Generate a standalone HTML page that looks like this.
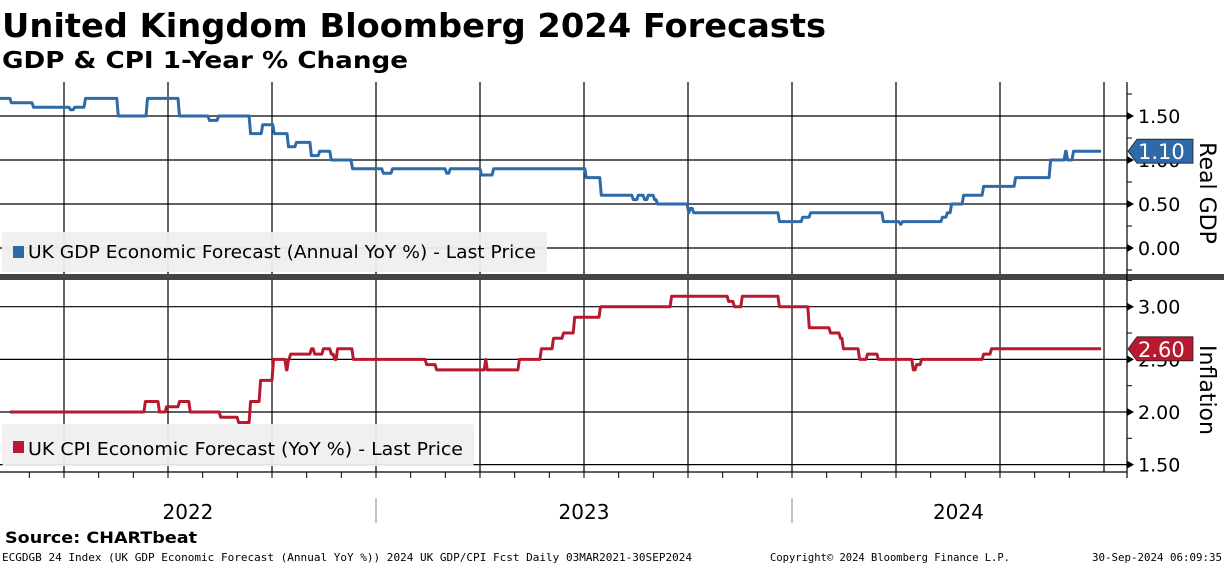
<!DOCTYPE html>
<html><head><meta charset="utf-8"><style>
body{margin:0;background:#fff;width:1224px;height:566px;overflow:hidden;font-family:"DejaVu Sans","Liberation Sans",sans-serif}
svg{display:block}
</style></head><body>
<svg id="c" width="1224" height="566" xmlns="http://www.w3.org/2000/svg">
<text x="2" y="37" font-family="DejaVu Sans, sans-serif" font-weight="bold" font-size="33" textLength="824" lengthAdjust="spacingAndGlyphs">United Kingdom Bloomberg 2024 Forecasts</text>
<text x="2" y="68" font-family="DejaVu Sans, sans-serif" font-weight="bold" font-size="23" textLength="406" lengthAdjust="spacingAndGlyphs">GDP &amp; CPI 1-Year % Change</text>
<g id="grid"></g>
<g id="marks"></g>
<rect x="0" y="274" width="1224" height="6" fill="#444"/>
<line x1="1127" y1="82" x2="1127" y2="478" stroke="#000" stroke-width="1.2"/>
<line x1="0" y1="472" x2="1127" y2="472" stroke="#000" stroke-width="1.2"/>
<g>
<rect x="2" y="232" width="545" height="40" rx="3" fill="#efefef" opacity="0.95"/>
<rect x="13" y="246" width="11" height="12" fill="#2e6aa8"/>
<text x="28" y="258" font-family="DejaVu Sans, sans-serif" font-size="18" textLength="508" lengthAdjust="spacingAndGlyphs">UK GDP Economic Forecast (Annual YoY %) - Last Price</text>
</g>
<g>
<rect x="2" y="424" width="472" height="42" rx="3" fill="#efefef" opacity="0.95"/>
<rect x="13" y="441" width="11" height="12" fill="#b8192f"/>
<text x="28" y="455" font-family="DejaVu Sans, sans-serif" font-size="18" textLength="435" lengthAdjust="spacingAndGlyphs">UK CPI Economic Forecast (YoY %) - Last Price</text>
</g>
<text transform="translate(1200,193) rotate(90)" text-anchor="middle" font-family="DejaVu Sans, sans-serif" font-size="22">Real GDP</text>
<text transform="translate(1200,390) rotate(90)" text-anchor="middle" font-family="DejaVu Sans, sans-serif" font-size="22">Inflation</text>
<line x1="376" y1="498" x2="376" y2="523" stroke="#888"/>
<line x1="792" y1="498" x2="792" y2="523" stroke="#888"/>
<text x="5" y="543" font-family="DejaVu Sans, sans-serif" font-weight="bold" font-size="16" textLength="192" lengthAdjust="spacingAndGlyphs">Source: CHARTbeat</text>
<g font-family="DejaVu Sans Mono, monospace" font-size="11">
<text x="2" y="561" textLength="690" lengthAdjust="spacingAndGlyphs">ECGDGB 24 Index (UK GDP Economic Forecast (Annual YoY %)) 2024 UK GDP/CPI Fcst  Daily 03MAR2021-30SEP2024</text>
<text x="770" y="561" textLength="240" lengthAdjust="spacingAndGlyphs">Copyright© 2024 Bloomberg Finance L.P.</text>
<text x="1092" y="561" textLength="130" lengthAdjust="spacingAndGlyphs">30-Sep-2024 06:09:35</text>
</g>
</svg>
<script>
// step series: value takes effect at each change date (fractional years)
const gdpT=[2022.096,2022.120,2022.173,2022.262,2022.272,2022.298,2022.377,2022.447,2022.524,2022.596,2022.618,2022.695,2022.724,2022.752,2022.786,2022.805,2022.841,2022.861,2022.889,2022.940,2023.014,2023.036,2023.166,2023.175,2023.250,2023.279,2023.502,2023.538,2023.615,2023.627,2023.642,2023.651,2023.666,2023.673,2023.748,2023.752,2023.760,2023.966,2024.022,2024.041,2024.216,2024.257,2024.262,2024.358,2024.370,2024.380,2024.409,2024.457,2024.534,2024.618,2024.654,2024.659,2024.673];
const gdpV=[1.70,1.65,1.60,1.57,1.60,1.70,1.50,1.70,1.50,1.45,1.50,1.30,1.40,1.30,1.15,1.20,1.05,1.10,1.00,0.90,0.85,0.90,0.85,0.90,0.83,0.90,0.80,0.60,0.55,0.60,0.55,0.60,0.55,0.50,0.40,0.45,0.40,0.30,0.35,0.40,0.30,0.27,0.30,0.35,0.40,0.50,0.60,0.70,0.80,1.00,1.10,1.00,1.10];
const cpiT=[2022.120,2022.442,2022.476,2022.493,2022.524,2022.550,2022.623,2022.666,2022.695,2022.719,2022.750,2022.781,2022.786,2022.791,2022.841,2022.849,2022.870,2022.889,2022.897,2022.904,2022.942,2023.118,2023.142,2023.260,2023.264,2023.341,2023.394,2023.423,2023.447,2023.474,2023.536,2023.707,2023.844,2023.858,2023.877,2023.966,2024.038,2024.089,2024.113,2024.120,2024.159,2024.178,2024.204,2024.288,2024.296,2024.308,2024.457,2024.476];
const cpiV=[2.00,2.10,2.00,2.05,2.10,2.00,1.95,1.90,2.10,2.30,2.50,2.40,2.50,2.55,2.60,2.55,2.60,2.55,2.50,2.60,2.50,2.45,2.40,2.50,2.40,2.50,2.60,2.70,2.75,2.90,3.00,3.10,3.05,3.00,3.10,3.00,2.80,2.75,2.70,2.60,2.50,2.55,2.50,2.40,2.45,2.50,2.55,2.60];
const endT=2024.743;
const gdpTicks=[0,0.5,1.0,1.5];
const cpiTicks=[1.5,2.0,2.5,3.0];
const yearLabels=["2022","2023","2024"];
const yearPos=[2022.548,2023.5,2024.4];
const gdpLast="1.10", cpiLast="2.60";

const X=t=>376+416*(t-2023);
const YG=v=>248-88*v;
const YC=v=>412-105.3*(v-2);
const NS="http://www.w3.org/2000/svg";
const grid=document.getElementById('grid'), marks=document.getElementById('marks');
function mk(tag,attrs,parent){const e=document.createElementNS(NS,tag);for(const k in attrs)e.setAttribute(k,attrs[k]);parent.appendChild(e);return e;}
for(let q=2022.25;q<2024.8;q+=0.25){
  const x=X(q);
  const l=mk('line',{x1:x,y1:82,x2:x,y2:472,stroke:'#000','stroke-width':1.2},grid);
  
  
}
for(let m=0;m<32;m++){
  const x=X(2022+m/12+1/12);
  if(x>1127)break;
  const t=mk('line',{x1:x,y1:472,x2:x,y2:478,stroke:'#000'},grid);
  
  
}
function yAxis(ticks,Y,lo,hi){
  ticks.forEach(v=>{
    const y=Y(v);
    const g=mk('line',{x1:0,y1:y,x2:1127,y2:y,stroke:'#000','stroke-width':1.2},grid);
    
    
    mk('path',{d:`M1127 ${y-4} L1134 ${y} L1127 ${y+4}Z`,fill:'#000'},grid);
    const t=mk('text',{x:1138,y:y+7,'font-size':19,'font-family':'DejaVu Sans, sans-serif'},grid);
    t.textContent=v.toFixed(2);
    
    
  });
  for(let v=lo;v<=hi+1e-9;v+=0.25){const y=Y(v);mk('line',{x1:1127,y1:y,x2:1132,y2:y,stroke:'#000'},grid);}
}
yAxis(gdpTicks,YG,-0.25,1.75);
yAxis(cpiTicks,YC,1.5,3.25);
yearLabels.forEach((s,i)=>{
  const t=mk('text',{x:X(yearPos[i]),y:519,'text-anchor':'middle','font-size':20,'font-family':'DejaVu Sans, sans-serif'},grid);
  t.textContent=s;
  
  
});
function series(T,V,Y,col,name){
  let d='M'+X(T[0]).toFixed(1)+' '+Y(V[0]).toFixed(1);
  for(let i=1;i<T.length;i++){
    const x=X(T[i]).toFixed(1);
    d+=' L'+x+' '+Y(V[i-1]).toFixed(1)+' L'+(+x+1.5)+' '+Y(V[i]).toFixed(1);
  }
  d+=' L'+X(endT).toFixed(1)+' '+Y(V[V.length-1]).toFixed(1);
  const p=mk('path',{d:d,fill:'none',stroke:col,'stroke-width':3,'stroke-linejoin':'round'},marks);
  
  
}
series(gdpT,gdpV,YG,'#2e6aa8','gdp-line');
series(cpiT,cpiV,YC,'#b8192f','cpi-line');
function tag(val,Y,col,name){
  const y=Y(parseFloat(val));
  const g=mk('g',{},marks);
  
  
  mk('path',{d:`M1128 ${y} L1137 ${y-12} L1193 ${y-12} L1193 ${y+12} L1137 ${y+12}Z`,fill:col,stroke:'#222','stroke-width':0.8},g);
  const t=mk('text',{x:1138,y:y+8,'font-size':21,fill:'#fff','font-family':'DejaVu Sans, sans-serif'},g);
  t.textContent=val;
}
tag(gdpLast,YG,'#2e6aa8','gdp-last-value-tag');
tag(cpiLast,YC,'#b8192f','cpi-last-value-tag');
</script>
</body></html>
